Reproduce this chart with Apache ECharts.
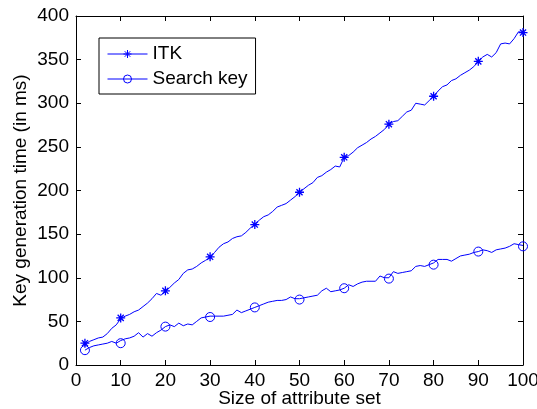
<!DOCTYPE html>
<html>
<head>
<meta charset="utf-8">
<script src="https://cdn.jsdelivr.net/npm/echarts@6/dist/echarts.min.js"></script>
<style>
html,body{margin:0;padding:0;background:#fff;}
#chart{width:537px;height:409px;}
</style>
</head>
<body>
<div id="chart"></div>
<script>
// Dense measured curves (x = size of attribute set)
var lineX = [2,3,4,5,6,7,8,9,10,11,12,13,14,15,16,17,18,19,20,21,22,23,24,25,26,27,28,29,30,31,32,33,34,35,36,37,38,39,40,41,42,43,44,45,46,47,48,49,50,51,52,53,54,55,56,57,58,59,60,61,62,63,64,65,66,67,68,69,70,71,72,73,74,75,76,77,78,79,80,81,82,83,84,85,86,87,88,89,90,91,92,93,94,95,96,97,98,99,100];
var itkLine = [24,27,29,31,32,36,42,46,53,56,58,61,63,67,71,76,82,80,84,89,94,98,105,109,110,113,117,120,123,129,135,139,141,145,147,148,152,157,161,166,170,172,176,181,183,185,189,193,198,202,206,209,215,217,221,224,228,227,238,240,244,249,252,255,259,262,266,270,276,279,280,285,290,292,300,299,298,303,308,314,319,321,326,328,332,335,338,342,348,353,356,353,358,368,369,368,374,382,381];
var searchLine = [17,20,22,23,24,25,27,25,28,30,31,33,37,32,36,33,37,40,44,46,44,48,45,47,46,50,54,55,56,56,56,56,57,58,63,60,62,64,66,68,70,72,73,74,74,75,78,76,76,77,78,79,80,85,88,84,85,86,88,92,90,93,95,96,96,96,102,100,100,107,105,106,107,108,113,114,113,115,117,121,121,121,119,122,125,126,127,129,130,132,131,129,132,133,134,136,139,138,137];
// Marker points
var markerX = [2,10,20,30,40,50,60,70,80,90,100];
var itkMarkers = [25,54,85,124,161,198,238,276,308,348,381];
var searchMarkers = [17,25,44,55,66,75,88,99,115,130,136];
var xTicks = {min:0, max:100, interval:10};
var yTicks = {min:0, max:400, interval:50};

function pairs(xs, ys){ return xs.map(function(x,i){ return [x, ys[i]]; }); }

var BLUE = '#0000ff';
var FONT = '"Liberation Sans", Arial, Helvetica, sans-serif';
var starPath = 'path://M0,5L10,5M5,0L5,10M1.6,1.6L8.4,8.4M8.4,1.6L1.6,8.4';

var chart = echarts.init(document.getElementById('chart'), null, {renderer:'canvas'});

function axisCommon(extra){
  var o = {
    type:'value',
    splitLine:{show:false},
    axisLine:{show:true, onZero:false, lineStyle:{color:'#000', width:1}},
    axisTick:{show:true, inside:true, length:5, lineStyle:{color:'#000', width:1}},
    axisLabel:{show:true, color:'#000', fontSize:19, fontFamily:FONT}
  };
  for (var k in extra) o[k] = extra[k];
  return o;
}

var option = {
  animation:false,
  backgroundColor:'#fff',
  grid:{left:76, right:14, top:16, bottom:44, containLabel:false, outerBoundsMode:'none'},
  legend:{
    data:['ITK','Search key'],
    orient:'vertical',
    left:99, top:38,
    padding:[6,8,5,8],
    itemWidth:40, itemHeight:10, itemGap:5,
    borderColor:'#000', borderWidth:1,
    backgroundColor:'#fff',
    textStyle:{color:'#000', fontSize:19, fontFamily:FONT, lineHeight:20},
    lineStyle:{opacity:1, width:1, color:BLUE},
    itemStyle:{borderWidth:1, borderColor:BLUE},
    selectedMode:false
  },
  xAxis:[
    axisCommon({position:'bottom', min:xTicks.min, max:xTicks.max, interval:xTicks.interval,
      name:'Size of attribute set', nameLocation:'middle', nameGap:24, nameMoveOverlap:false,
      nameTextStyle:{color:'#000', fontSize:19, fontFamily:FONT, verticalAlign:'top'},
      axisLabel:{show:true, color:'#000', fontSize:19, fontFamily:FONT, margin:6}}),
    axisCommon({position:'top', min:xTicks.min, max:xTicks.max, interval:xTicks.interval,
      axisLabel:{show:false}})
  ],
  yAxis:[
    axisCommon({position:'left', min:yTicks.min, max:yTicks.max, interval:yTicks.interval,
      name:'Key generation time (in ms)', nameLocation:'middle', nameGap:46, nameMoveOverlap:false,
      nameTextStyle:{color:'#000', fontSize:19, fontFamily:FONT},
      axisLabel:{show:true, color:'#000', fontSize:19, fontFamily:FONT, margin:7}}),
    axisCommon({position:'right', min:yTicks.min, max:yTicks.max, interval:yTicks.interval,
      axisLabel:{show:false}})
  ],
  series:[
    {
      name:'ITK curve', type:'line', xAxisIndex:0, yAxisIndex:0,
      data:pairs(lineX, itkLine), showSymbol:false, symbol:'none',
      lineStyle:{color:BLUE, width:1}, itemStyle:{color:BLUE}, z:2
    },
    {
      name:'Search key curve', type:'line', xAxisIndex:0, yAxisIndex:0,
      data:pairs(lineX, searchLine), showSymbol:false, symbol:'none',
      lineStyle:{color:BLUE, width:1}, itemStyle:{color:BLUE}, z:2
    },
    {
      name:'ITK', type:'line', xAxisIndex:0, yAxisIndex:0,
      data:pairs(markerX, itkMarkers), symbol:starPath, symbolSize:9, showAllSymbol:true,
      lineStyle:{color:BLUE, width:1, opacity:0},
      itemStyle:{color:'none', borderColor:BLUE, borderWidth:1.3}, z:3
    },
    {
      name:'Search key', type:'line', xAxisIndex:0, yAxisIndex:0,
      data:pairs(markerX, searchMarkers), symbol:'circle', symbolSize:9, showAllSymbol:true,
      lineStyle:{color:BLUE, width:1, opacity:0},
      itemStyle:{color:'none', borderColor:BLUE, borderWidth:1}, z:3
    }
  ]
};
chart.setOption(option);
</script>
</body>
</html>
